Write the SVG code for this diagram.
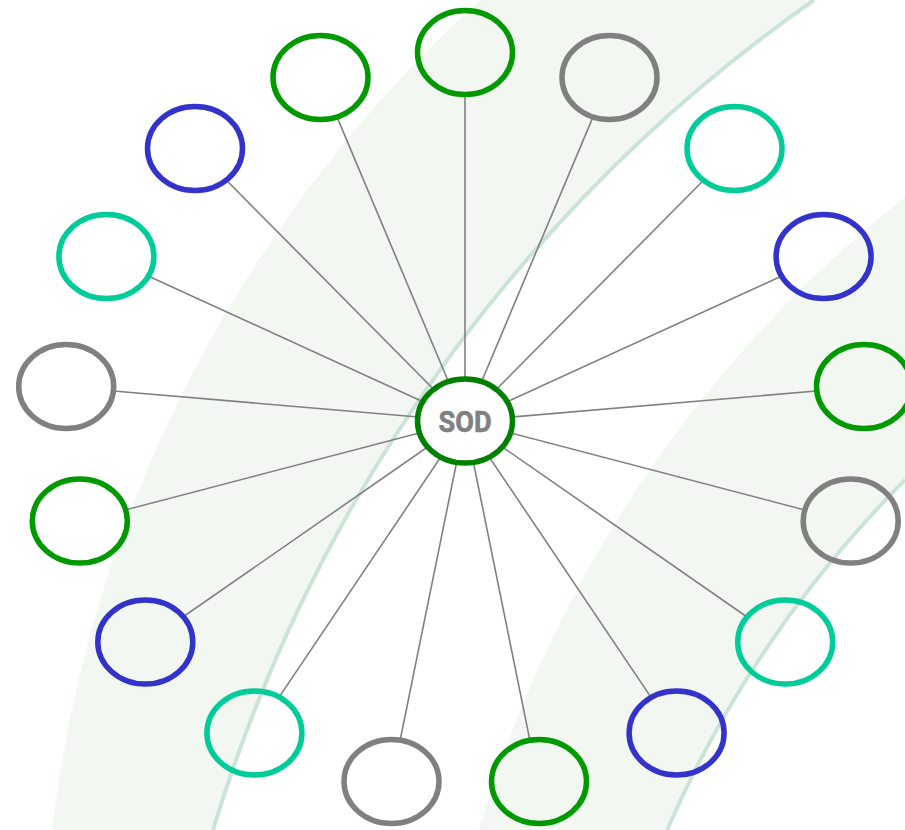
<svg xmlns="http://www.w3.org/2000/svg" width="905" height="830" viewBox="0 0 905 830">
<style>
.band{fill:#f2f7f2;stroke:none}
.bandEdge{fill:none;stroke:#cce3d8;stroke-width:4}
.conn line{stroke:#808080;stroke-width:1.6}
.node{fill:none;stroke-width:5.5}
.green{stroke:#009900}
.gray{stroke:#808080}
.teal{stroke:#00cc99}
.blue{stroke:#3333cc}
.center{fill:#ffffff;stroke:#008000;stroke-width:5.5}
.label{font-family:"Liberation Sans Narrow","Roboto","Liberation Sans",sans-serif;font-weight:bold;font-size:30px;fill:#808080;stroke:#808080;stroke-width:0.6}
</style>
<rect width="905" height="830" fill="#ffffff"/>
<g id="background">
<path class="band" d="M 480 0 A 1333 1333 0 0 0 52 830 L 213 830 A 1570 1570 0 0 1 814 0 Z"/>
<path class="band" d="M 905 197 A 1252 1252 0 0 0 479 830 L 667 830 A 1144 1144 0 0 1 905 480 Z"/>
<path class="bandEdge" d="M 814 0 A 1570 1570 0 0 0 213 830"/>
<path class="bandEdge" d="M 905 480 A 1144 1144 0 0 0 667 830"/>
</g>
<g id="connectors" class="conn">
<line x1="465" y1="421" x2="465" y2="95"/>
<line x1="465" y1="421" x2="592.95" y2="117.1"/>
<line x1="465" y1="421" x2="703.3" y2="180.5"/>
<line x1="465" y1="421" x2="781.3" y2="276.2"/>
<line x1="465" y1="421" x2="816.5" y2="391"/>
<line x1="465" y1="421" x2="804.6" y2="509.9"/>
<line x1="465" y1="421" x2="747.1" y2="617"/>
<line x1="465" y1="421" x2="651.4" y2="697.9"/>
<line x1="465" y1="421" x2="530.1" y2="741.4"/>
<line x1="465" y1="421" x2="399.9" y2="741.4"/>
<line x1="465" y1="421" x2="278.6" y2="697.9"/>
<line x1="465" y1="421" x2="182.9" y2="617"/>
<line x1="465" y1="421" x2="125.4" y2="509.9"/>
<line x1="465" y1="421" x2="113.5" y2="391"/>
<line x1="465" y1="421" x2="148.7" y2="276.2"/>
<line x1="465" y1="421" x2="226.7" y2="180.5"/>
<line x1="465" y1="421" x2="337.05" y2="117.1"/>
</g>
<g id="n0"><ellipse class="node green" cx="465" cy="52.5" rx="47.5" ry="42"/></g>
<g id="n1"><ellipse class="node gray" cx="609.5" cy="77.5" rx="47.5" ry="42"/></g>
<g id="n2"><ellipse class="node teal" cx="734.5" cy="148.5" rx="47.5" ry="42"/></g>
<g id="n3"><ellipse class="node blue" cx="823.6" cy="256.5" rx="47.5" ry="42"/></g>
<g id="n4"><ellipse class="node green" cx="864" cy="386.5" rx="47.5" ry="42"/></g>
<g id="n5"><ellipse class="node gray" cx="850.7" cy="521" rx="47.5" ry="42"/></g>
<g id="n6"><ellipse class="node teal" cx="785.2" cy="642" rx="47.5" ry="42"/></g>
<g id="n7"><ellipse class="node blue" cx="676.6" cy="733" rx="47.5" ry="42"/></g>
<g id="n8"><ellipse class="node green" cx="539" cy="781.5" rx="47.5" ry="42"/></g>
<g id="n9"><ellipse class="node gray" cx="391.5" cy="781.5" rx="47.5" ry="42"/></g>
<g id="n10"><ellipse class="node teal" cx="254.4" cy="733" rx="47.5" ry="42"/></g>
<g id="n11"><ellipse class="node blue" cx="145.3" cy="642" rx="47.5" ry="42"/></g>
<g id="n12"><ellipse class="node green" cx="79.8" cy="521" rx="47.5" ry="42"/></g>
<g id="n13"><ellipse class="node gray" cx="66.2" cy="386.5" rx="47.5" ry="42"/></g>
<g id="n14"><ellipse class="node teal" cx="106.4" cy="256.5" rx="47.5" ry="42"/></g>
<g id="n15"><ellipse class="node blue" cx="195" cy="148.5" rx="47.5" ry="42"/></g>
<g id="n16"><ellipse class="node green" cx="320.5" cy="77.5" rx="47.5" ry="42"/></g>
<g id="sod">
<ellipse class="center" cx="465" cy="421" rx="47.5" ry="42"/>
<text class="label" x="465" y="432" text-anchor="middle" textLength="53" lengthAdjust="spacingAndGlyphs">SOD</text>
</g>
</svg>
